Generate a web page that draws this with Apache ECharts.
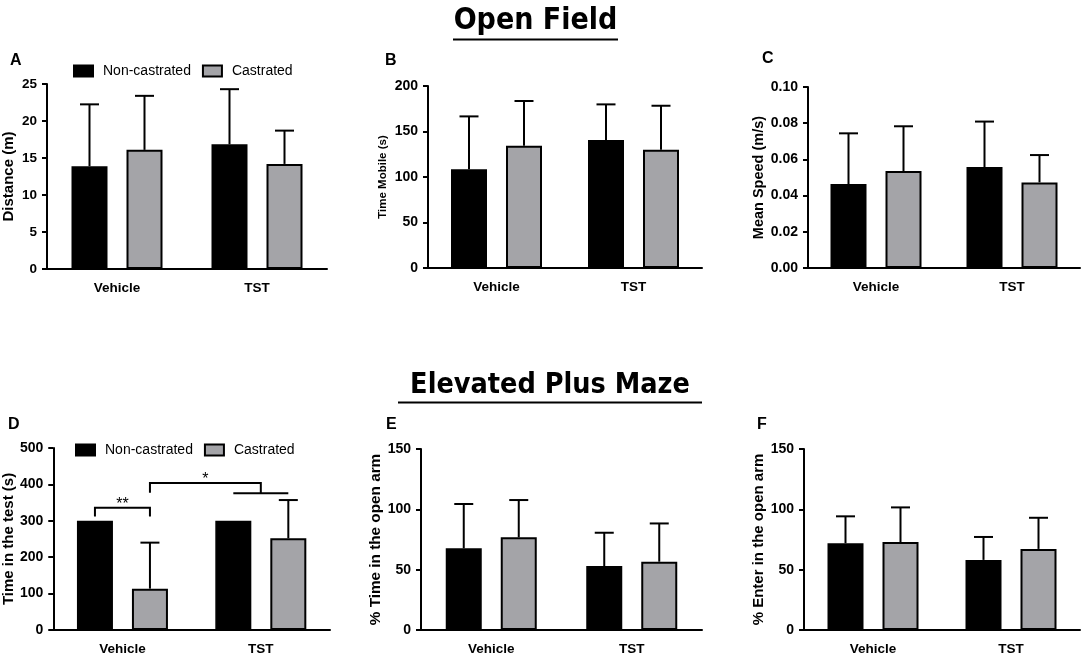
<!DOCTYPE html>
<html><head><meta charset="utf-8">
<script src="https://cdn.jsdelivr.net/npm/echarts@6/dist/echarts.min.js"></script>
<style>html,body{margin:0;padding:0;background:#fff}#c{width:1084px;height:656px}</style>
</head><body><div id="c"></div>
<script>
// ---------- data ----------
const categories = ['Vehicle', 'TST'];
const groups = ['Non-castrated', 'Castrated'];

// A: Distance (m)
const distanceNC = [13.9, 16.85];
const distanceNCsd = [8.35, 7.45];
const distanceC = [16.1, 14.2];
const distanceCsd = [7.3, 4.5];
// B: Time Mobile (s)
const mobileNC = [108.6, 140.6];
const mobileNCsd = [58.0, 39.2];
const mobileC = [134.3, 129.9];
const mobileCsd = [49.2, 48.4];
// C: Mean Speed (m/s)
const speedNC = [0.0464, 0.0558];
const speedNCsd = [0.0280, 0.0251];
const speedC = [0.0536, 0.0473];
const speedCsd = [0.0247, 0.0151];
// D: Time in the test (s)
const testTimeNC = [300, 300];
const testTimeNCsd = [0, 0];
const testTimeC = [113.6, 251.8];
const testTimeCsd = [126.4, 105.2];
// E: % Time in the open arm
const openTimeNC = [67.7, 53.0];
const openTimeNCsd = [36.7, 27.6];
const openTimeC = [76.8, 56.6];
const openTimeCsd = [30.9, 31.7];
// F: % Enter in the open arm
const openEnterNC = [71.9, 58.1];
const openEnterNCsd = [22.3, 19.0];
const openEnterC = [72.9, 67.2];
const openEnterCsd = [28.7, 25.8];

// significance brackets on panel D (pos: -1 Non-castrated bar, 1 Castrated bar, 0 whole group)
const bracketLabels = ['**', '*'];
const bracketTops = [336, 404];
const bracketFrom = [[0, -1, 312], [0, 1, 377]];   // [category, pos, leg bottom]
const bracketTo = [[0, 1, 312], [1, 0, 376]];

// ---------- layout / style ----------
const BAR_W = 36, BAR_GAP = 19, CAP = 19;
const OFFSET = (BAR_W + BAR_GAP) / 2;
const GREY = '#a4a4a8';
const FONT = 'Liberation Sans';

const panels = [
  {letter:'A', yName:'Distance (m)', nc:distanceNC, ncSd:distanceNCsd, c:distanceC, cSd:distanceCsd, max:25, interval:5, dec:0,
   grid:{left:47, top:84, width:280, height:185}, nameGap:31, nameSize:15, labelSize:13.5, letterPos:[10,61]},
  {letter:'B', yName:'Time Mobile (s)', nc:mobileNC, ncSd:mobileNCsd, c:mobileC, cSd:mobileCsd, max:200, interval:50, dec:0,
   grid:{left:428, top:86, width:274, height:182}, nameGap:39, nameSize:11.5, labelSize:14, letterPos:[385,61]},
  {letter:'C', yName:'Mean Speed (m/s)', nc:speedNC, ncSd:speedNCsd, c:speedC, cSd:speedCsd, max:0.1, interval:0.02, dec:2,
   grid:{left:808, top:87, width:272, height:181}, nameGap:40, nameSize:14.5, labelSize:14, letterPos:[762,59]},
  {letter:'D', yName:'Time in the test (s)', nc:testTimeNC, ncSd:testTimeNCsd, c:testTimeC, cSd:testTimeCsd, max:500, interval:100, dec:0,
   grid:{left:48, top:448, width:282, height:183}, nameGap:32, nameSize:15, labelSize:14, letterPos:[8,425]},
  {letter:'E', yName:'% Time in the open arm', nc:openTimeNC, ncSd:openTimeNCsd, c:openTimeC, cSd:openTimeCsd, max:150, interval:50, dec:0,
   grid:{left:421, top:449, width:281, height:181}, nameGap:27, nameSize:15.3, labelSize:14, letterPos:[386,425]},
  {letter:'F', yName:'% Enter in the open arm', nc:openEnterNC, ncSd:openEnterNCsd, c:openEnterC, cSd:openEnterCsd, max:150, interval:50, dec:0,
   grid:{left:804, top:449, width:276, height:181}, nameGap:36, nameSize:15, labelSize:14, letterPos:[757,425]}
];

function renderErr(params, api) {
  const cat = api.value(0), mean = api.value(1), top = api.value(2), pos = api.value(3);
  if (!(top > mean)) return null;
  const p0 = api.coord([cat, mean]);
  const p1 = api.coord([cat, top]);
  const x = p0[0] + pos * OFFSET;
  const st = {stroke:'#000', lineWidth:2};
  return {type:'group', children:[
    {type:'line', shape:{x1:x, y1:p0[1], x2:x, y2:p1[1]}, style:st},
    {type:'line', shape:{x1:x - CAP/2, y1:p1[1], x2:x + CAP/2, y2:p1[1]}, style:st}
  ]};
}

function renderBracket(params, api) {
  const i = params.dataIndex;
  const f = bracketFrom[i], t = bracketTo[i];
  const yTop = api.coord([0, bracketTops[i]])[1];
  const xf = api.coord([f[0], 0])[0] + f[1] * OFFSET;
  const xt = api.coord([t[0], 0])[0] + t[1] * OFFSET;
  const yfb = api.coord([0, f[2]])[1];
  const ytb = api.coord([0, t[2]])[1];
  const st = {stroke:'#000', lineWidth:2, fill:null};
  const children = [
    {type:'polyline', shape:{points:[[xf, yfb], [xf, yTop], [xt, yTop], [xt, ytb]]}, style:st},
    {type:'text', x:(xf + xt) / 2, y:yTop + 5, style:{text:bracketLabels[i], fontSize:16, fontFamily:FONT, fill:'#000', align:'center', verticalAlign:'bottom'}}
  ];
  [f, t].forEach((e, k) => {
    if (e[1] === 0) {
      const c = api.coord([e[0], 0])[0];
      const yb = k === 0 ? yfb : ytb;
      children.push({type:'line', shape:{x1:c - OFFSET, y1:yb, x2:c + OFFSET, y2:yb}, style:st});
    }
  });
  return {type:'group', children};
}

const grids = [], xAxes = [], yAxes = [], series = [];
panels.forEach((p, i) => {
  grids.push(p.grid);
  xAxes.push({
    type:'category', gridIndex:i, data:categories,
    axisLine:{lineStyle:{color:'#000', width:2}},
    axisTick:{alignWithLabel:true, length:6, lineStyle:{color:'#000', width:2}},
    axisLabel:{color:'#000', fontSize:13.5, fontWeight:'bold', fontFamily:FONT, margin:12}
  });
  yAxes.push({
    type:'value', gridIndex:i, min:0, max:p.max, interval:p.interval,
    name:p.yName, nameLocation:'middle', nameGap:p.nameGap,
    nameTextStyle:{color:'#000', fontSize:p.nameSize, fontWeight:'bold', fontFamily:FONT},
    axisLine:{show:true, lineStyle:{color:'#000', width:2}},
    axisTick:{show:true, length:5, lineStyle:{color:'#000', width:2}},
    splitLine:{show:false},
    axisLabel:{color:'#000', fontSize:p.labelSize, fontWeight:'bold', fontFamily:FONT, margin:10,
      formatter:v => v.toFixed(p.dec)}
  });
  series.push({
    type:'bar', name:groups[0], xAxisIndex:i, yAxisIndex:i, data:p.nc,
    barWidth:BAR_W, barGap:(BAR_GAP / BAR_W * 100) + '%',
    itemStyle:{color:'#000', borderColor:'#000', borderWidth:1.5}
  });
  series.push({
    type:'bar', name:groups[1], xAxisIndex:i, yAxisIndex:i, data:p.c,
    barWidth:BAR_W, barGap:(BAR_GAP / BAR_W * 100) + '%',
    itemStyle:{color:GREY, borderColor:'#000', borderWidth:2}
  });
  const errData = [];
  categories.forEach((_, k) => errData.push([k, p.nc[k], p.nc[k] + p.ncSd[k], -1]));
  categories.forEach((_, k) => errData.push([k, p.c[k], p.c[k] + p.cSd[k], 1]));
  series.push({
    type:'custom', xAxisIndex:i, yAxisIndex:i, renderItem:renderErr, data:errData,
    encode:{x:0, y:[1, 2]}, clip:false, z:3, silent:true
  });
});
series.push({
  type:'custom', xAxisIndex:3, yAxisIndex:3, renderItem:renderBracket,
  data:bracketTops.map((v, i) => [bracketFrom[i][0], v]), encode:{x:0, y:1}, clip:false, z:4, silent:true
});

const legendBase = {
  data:groups, orient:'horizontal', padding:0, itemWidth:19, itemHeight:11, itemGap:11, icon:'rect',
  textStyle:{color:'#000', fontSize:14, fontFamily:FONT, padding:[0,0,0,5]}, selectedMode:false
};

const graphic = [];
panels.forEach(p => graphic.push({
  type:'text', x:p.letterPos[0], y:p.letterPos[1],
  style:{text:p.letter, fontSize:16, fontWeight:'bold', fontFamily:FONT, fill:'#000', verticalAlign:'middle'}
}));
graphic.push({type:'text', x:535.5, y:21, style:{text:'Open Field', fontSize:30, fontWeight:'bold', fontFamily:'DejaVu Sans Condensed', fill:'#000', align:'center', verticalAlign:'middle'}});
graphic.push({type:'line', shape:{x1:453, y1:39.5, x2:618, y2:39.5}, style:{stroke:'#000', lineWidth:2}});
graphic.push({type:'text', x:550, y:386, style:{text:'Elevated Plus Maze', fontSize:28.5, fontWeight:'bold', fontFamily:'DejaVu Sans Condensed', fill:'#000', align:'center', verticalAlign:'middle'}});
graphic.push({type:'line', shape:{x1:398, y1:402.5, x2:702, y2:402.5}, style:{stroke:'#000', lineWidth:2}});

const chart = echarts.init(document.getElementById('c'), null, {renderer:'canvas'});
chart.setOption({
  backgroundColor:'#fff',
  animation:false,
  grid:grids,
  xAxis:xAxes,
  yAxis:yAxes,
  legend:[
    Object.assign({}, legendBase, {left:73, top:64}),
    Object.assign({}, legendBase, {left:75, top:443})
  ],
  graphic:graphic,
  series:series
});
</script>
</body></html>
